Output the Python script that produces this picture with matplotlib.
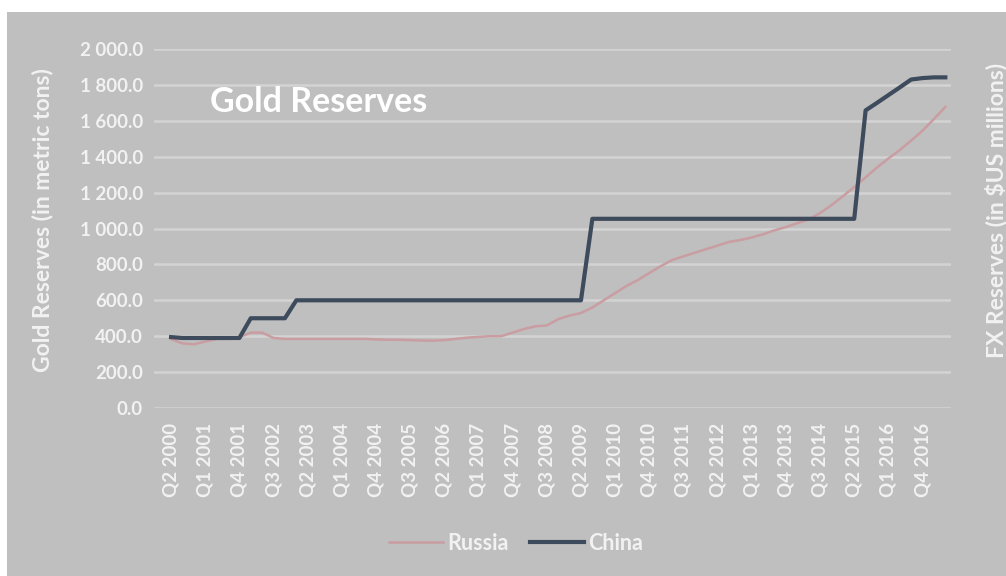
import matplotlib.pyplot as plt
from matplotlib.patches import Rectangle
from matplotlib.ticker import FuncFormatter

plt.rcParams['font.family'] = ['Lato', 'DejaVu Sans']

# quarterly series, Q2 2000 .. Q2 2017
quarters = [f"Q{q} {y}" for y in range(2000, 2018) for q in range(1, 5)][1:70]

russia = [384, 360, 355, 370, 385, 385, 395, 420, 420, 390,
          385, 385, 385, 385, 385, 385, 385, 385, 382, 380,
          380, 378, 376, 375, 378, 385, 392, 396, 400, 400,
          420, 440, 455, 460, 495, 515, 529, 560, 600, 640,
          680, 713, 752, 790, 824, 845, 865, 885, 905, 925,
          936, 950, 968, 990, 1008, 1030, 1050, 1086, 1130, 1180,
          1231, 1285, 1340, 1390, 1437, 1490, 1545, 1610, 1677]

china = [395, 390, 390, 390, 390, 390, 390, 500, 500, 500,
         500, 600, 600, 600, 600, 600, 600, 600, 600, 600,
         600, 600, 600, 600, 600, 600, 600, 600, 600, 600,
         600, 600, 600, 600, 600, 600, 600, 1054, 1054, 1054,
         1054, 1054, 1054, 1054, 1054, 1054, 1054, 1054, 1054, 1054,
         1054, 1054, 1054, 1054, 1054, 1054, 1054, 1054, 1054, 1054,
         1054, 1658, 1700, 1743, 1786, 1830, 1838, 1842, 1842]

bg = '#bfbfbf'
txt = '#f2f2f2'

fig = plt.figure(figsize=(10.06, 5.76), dpi=100, facecolor='white')
fig.patches.append(Rectangle((7 / 1006, 0), 1, 1 - 12 / 576, transform=fig.transFigure,
                             facecolor=bg, edgecolor='none', zorder=-10))

ax = fig.add_axes([154 / 1006, 1 - 408 / 576, (951 - 154) / 1006, (408 - 49) / 576])
ax.set_facecolor('none')

x = list(range(len(quarters)))
ax.plot(x, russia, color='#c99da1', lw=1.8, label='Russia')
ax.plot(x, china, color='#3d4b5c', lw=3, label='China')

ax.set_xlim(-1.5, len(quarters) - 0.5)
ax.set_ylim(0, 2000)
ax.set_yticks(range(0, 2001, 200))
ax.yaxis.set_major_formatter(FuncFormatter(lambda v, p: f"{v:,.1f}".replace(',', ' ')))
ax.set_xticks(x[::3])
ax.set_xticklabels(quarters[::3], rotation=90)

ax.grid(axis='y', color='#d3d3d3', lw=1.8)
ax.set_axisbelow(True)
for s in ax.spines.values():
    s.set_visible(False)
ax.tick_params(length=0, colors=txt, labelsize=13.5)
ax.tick_params(axis='x', pad=11)
ax.tick_params(axis='y', pad=8)
for lab in ax.get_xticklabels() + ax.get_yticklabels():
    lab.set_fontweight('bold')

fig.text(43 / 1006, 1 - 220 / 576, 'Gold Reserves (in metric tons)', rotation=90,
         color=txt, fontsize=16.5, fontweight='bold', ha='center', va='center')
ax.text(210 / 1006, 1 - 102 / 576, 'Gold Reserves', transform=fig.transFigure,
        color='white', fontsize=24.5, fontweight='bold', va='center')

fig.text(996 / 1006, 1 - 210 / 576, 'FX Reserves (in $US millions)', rotation=90,
         color=txt, fontsize=16.5, fontweight='bold', ha='center', va='center')

leg = ax.legend(loc='center', bbox_to_anchor=(516 / 1006, 1 - 543 / 576),
                bbox_transform=fig.transFigure, ncol=2, frameon=False,
                prop={'size': 15.5, 'weight': 'bold'}, labelcolor=txt,
                handlelength=2.5, handletextpad=0.2, columnspacing=1.0)

fig.savefig('out.png', dpi=100, facecolor=fig.get_facecolor())
